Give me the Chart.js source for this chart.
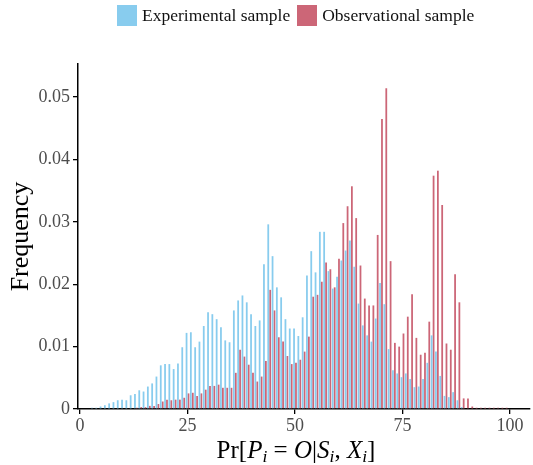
<!DOCTYPE html>
<html lang="en">
<head>
    <meta charset="UTF-8">
    <title>Experimental vs observational sample</title>
    <script src="https://cdn.jsdelivr.net/npm/chart.js"></script>
    <style>
        body {
            margin: 0;
            background-color: #FFFFFF;
            font-family: 'Liberation Serif', serif;
        }
        .chart-wrapper {
            position: relative;
            width: 533px;
            height: 465px;
        }
        .legend {
            position: absolute;
            top: 5px;
            left: 117px;
            display: flex;
            align-items: center;
            font-size: 17.5px;
            color: #111;
            white-space: nowrap;
        }
        .legend .swatch {
            display: inline-block;
            width: 20px;
            height: 21px;
            margin-right: 5px;
        }
        .legend .item { display: flex; align-items: center; margin-right: 7px; }
        .x-title {
            position: absolute;
            top: 437px;
            left: 296px;
            transform: translateX(-50%);
            font-size: 25px;
            line-height: 1;
            color: #000;
            white-space: nowrap;
        }
        .x-title sub { font-size: 0.7em; vertical-align: -0.25em; line-height: 0; }
    </style>
</head>
<body>
    <div class="chart-wrapper">
        <canvas id="histCanvas" width="533" height="465"></canvas>
        <div class="legend">
            <span class="item"><span class="swatch" style="background:#88CCEE"></span>Experimental sample</span>
            <span class="item"><span class="swatch" style="background:#CC6677"></span>Observational sample</span>
        </div>
        <div class="x-title">Pr[<i>P<sub>i</sub></i> = <i>O</i>|<i>S<sub>i</sub></i>, <i>X<sub>i</sub></i>]</div>
    </div>

    <script>
        // bins 0..99 (one bar pair per integer)
        const bins = Array.from({length: 100}, (_, i) => i);

        const experimental = [
            0, 0, 0, 0.0002, 0.0002, 0.0004, 0.0006, 0.0009, 0.0011, 0.0014,
            0.0015, 0.0014, 0.0022, 0.0024, 0.0030, 0.0028, 0.0036, 0.0041, 0.0052, 0.0070,
            0.0072, 0.0072, 0.0064, 0.0073, 0.0099, 0.0122, 0.0123, 0.0099, 0.0108, 0.0133,
            0.0155, 0.0152, 0.0144, 0.0131, 0.0110, 0.0107, 0.0158, 0.0174, 0.0182, 0.0171,
            0.0152, 0.0133, 0.0142, 0.0232, 0.0296, 0.0245, 0.0195, 0.0179, 0.0144, 0.0129,
            0.0129, 0.0117, 0.0147, 0.0214, 0.0253, 0.0219, 0.0284, 0.0284, 0.0221, 0.0193,
            0.0212, 0.0238, 0.0254, 0.0270, 0.0228, 0.0169, 0.0134, 0.0118, 0.0108, 0.0145,
            0.0202, 0.0168, 0.0096, 0.0062, 0.0057, 0.0051, 0.0057, 0.0048, 0.0035, 0.0036,
            0.0048, 0.0074, 0.0118, 0.0092, 0.0053, 0.0021, 0.0019, 0.0027, 0.0014, 0.0003,
            0, 0, 0, 0, 0, 0, 0, 0, 0, 0
        ];

        const observational = [
            0, 0, 0, 0, 0, 0, 0, 0, 0, 0,
            0, 0, 0, 0.0002, 0.0003, 0.0003, 0.0005, 0.0005, 0.0008, 0.0012,
            0.0015, 0.0014, 0.0015, 0.0015, 0.0018, 0.0025, 0.0026, 0.0021, 0.0025, 0.0031,
            0.0037, 0.0037, 0.0039, 0.0034, 0.0034, 0.0034, 0.0058, 0.0095, 0.0084, 0.0071,
            0.0058, 0.0044, 0.0052, 0.0077, 0.0191, 0.0158, 0.0115, 0.0108, 0.0085, 0.0072,
            0.0074, 0.0079, 0.0092, 0.0116, 0.0180, 0.0183, 0.0204, 0.0235, 0.0224, 0.0195,
            0.0241, 0.0298, 0.0325, 0.0357, 0.0306, 0.0230, 0.0177, 0.0166, 0.0166, 0.0279,
            0.0465, 0.0514, 0.0237, 0.0106, 0.0100, 0.0121, 0.0148, 0.0184, 0.0114, 0.0087,
            0.0090, 0.0140, 0.0374, 0.0382, 0.0327, 0.0105, 0.0095, 0.0216, 0.0171, 0.0017,
            0.0017, 0.0004, 0.0002, 0.0002, 0.0002, 0.0002, 0.0002, 0.0002, 0.0002, 0.0002
        ];

        const xTicks = [0, 25, 50, 75, 100];
        const yTicks = [0, 0.01, 0.02, 0.03, 0.04, 0.05];

        const toPoints = vals => bins.map((b, i) => ({x: b, y: vals[i]}));

        const tickFont = { family: 'Liberation Serif', size: 18 };

        new Chart(document.getElementById('histCanvas'), {
            type: 'bar',
            data: {
                datasets: [
                    {
                        label: 'Experimental sample',
                        data: toPoints(experimental),
                        backgroundColor: '#88CCEE',
                        borderWidth: 0,
                        categoryPercentage: 0.9,
                        barPercentage: 0.92
                    },
                    {
                        label: 'Observational sample',
                        data: toPoints(observational),
                        backgroundColor: '#CC6677',
                        borderWidth: 0,
                        categoryPercentage: 0.9,
                        barPercentage: 0.92
                    }
                ]
            },
            options: {
                responsive: false,
                animation: false,
                layout: { padding: { top: 64, right: 3, left: 0, bottom: 0 } },
                scales: {
                    x: {
                        type: 'linear',
                        offset: false,
                        min: -0.47,
                        max: 104.65,
                        afterBuildTicks: axis => { axis.ticks = xTicks.map(v => ({value: v})); },
                        afterFit: axis => { axis.height = 56; },
                        grid: { offset: false, drawOnChartArea: false, color: '#000', lineWidth: 1.3, tickLength: 5 },
                        border: { color: '#000', width: 1.5 },
                        ticks: {
                            color: '#4D4D4D',
                            font: tickFont,
                            padding: 1,
                            maxRotation: 0,
                            callback: v => String(v)
                        }
                    },
                    y: {
                        min: 0,
                        max: 0.0553,
                        afterBuildTicks: axis => { axis.ticks = yTicks.map(v => ({value: v})); },
                        afterFit: axis => { axis.width = 78; },
                        grid: { drawOnChartArea: false, color: '#000', lineWidth: 1.3, tickLength: 5 },
                        border: { color: '#000', width: 1.5 },
                        ticks: {
                            color: '#4D4D4D',
                            font: tickFont,
                            padding: 3,
                            callback: v => v === 0 ? '0' : v.toFixed(2)
                        },
                        title: {
                            display: true,
                            text: 'Frequency',
                            color: '#000',
                            font: { family: 'Liberation Serif', size: 26 },
                            padding: { top: 6, bottom: 0 }
                        }
                    }
                },
                plugins: {
                    legend: { display: false },
                    tooltip: { enabled: false }
                }
            }
        });
    </script>
</body>
</html>
